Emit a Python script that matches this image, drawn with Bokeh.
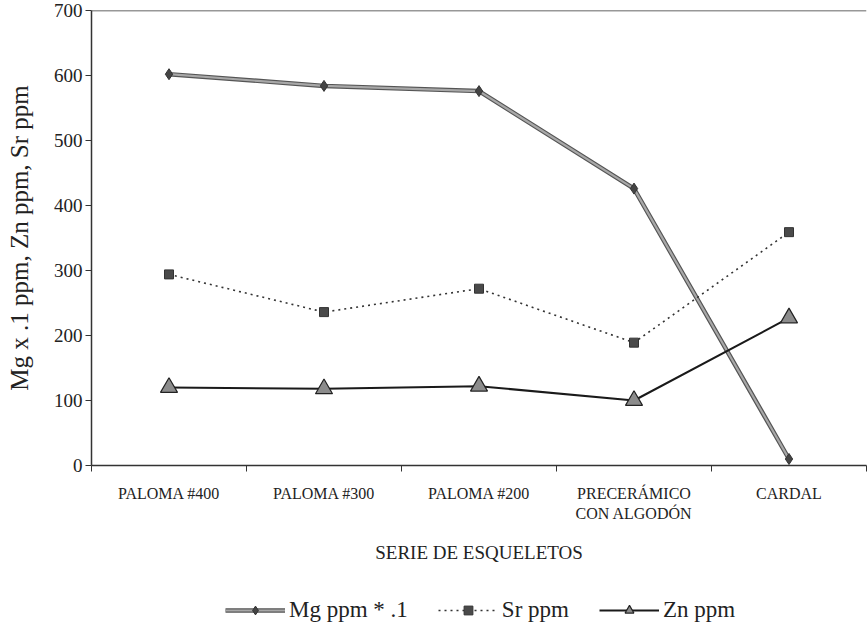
from bokeh.plotting import figure
from bokeh.layouts import column
from bokeh.models import (ColumnDataSource, FixedTicker, Legend, LegendItem, Span, Range1d)
from bokeh.embed import file_html
from bokeh.resources import INLINE

categories = ["PALOMA #400", "PALOMA #300", "PALOMA #200", "PRECERÁMICO\nCON ALGODÓN", "CARDAL"]
mg = [602, 584, 576, 426, 10]
sr = [294, 236, 272, 189, 359]
zn = [120, 118, 122, 100, 227]
y_ticks = [0, 100, 200, 300, 400, 500, 600, 700]
series_labels = ["Mg ppm * .1", "Sr ppm", "Zn ppm"]

xs = [i + 0.5 for i in range(len(categories))]
src = ColumnDataSource(dict(x=xs, mg=mg, sr=sr, zn=zn))

FONT = "Liberation Serif"
TXT = "#222222"

MG_EDGE = dict(line_color="#555555", line_width=4.5)
MG_BODY = dict(line_color="#a8a8a8", line_width=2.2)
MG_MARK = dict(marker="diamond", size=11, fill_color="#444444", line_color="#333333")
SR_LINE = dict(line_color="#333333", line_width=1.6, line_dash="2 4")
SR_MARK = dict(marker="square", size=9, fill_color="#4a4a4a", line_color="#333333")
ZN_LINE = dict(line_color="#1a1a1a", line_width=2)
ZN_MARK = dict(marker="triangle", size=17, fill_color="#8c8c8c", line_color="#222222", line_width=1.2)

p = figure(width=868, height=590, output_backend="svg", toolbar_location=None,
           x_range=Range1d(0, len(categories)), y_range=Range1d(0, 700),
           min_border_left=91, min_border_right=2, min_border_top=10, min_border_bottom=125)
p.outline_line_color = None
p.xgrid.grid_line_color = None
p.ygrid.grid_line_color = None

p.add_layout(Span(location=700, dimension="width", line_color="#333333", line_width=1.5))

p.line("x", "mg", source=src, **MG_EDGE)
p.line("x", "mg", source=src, **MG_BODY)
p.scatter("x", "mg", source=src, **MG_MARK)
p.line("x", "sr", source=src, **SR_LINE)
p.scatter("x", "sr", source=src, **SR_MARK)
p.line("x", "zn", source=src, **ZN_LINE)
p.scatter("x", "zn", source=src, **ZN_MARK)

xa = p.xaxis[0]
xa.ticker = FixedTicker(ticks=xs, minor_ticks=list(range(len(categories) + 1)))
xa.major_label_overrides = {x: c for x, c in zip(xs, categories)}
xa.major_tick_line_color = None
xa.major_tick_out = 6
xa.minor_tick_line_color = "#333333"
xa.minor_tick_out = 6
xa.minor_tick_in = 0
xa.axis_line_color = "#333333"
xa.axis_line_width = 1.5
xa.major_label_text_font = FONT
xa.major_label_text_font_size = "16px"
xa.major_label_text_color = TXT
xa.major_label_standoff = 13
xa.axis_label = "SERIE DE ESQUELETOS"
xa.axis_label_text_font = FONT
xa.axis_label_text_font_style = "normal"
xa.axis_label_text_font_size = "19px"
xa.axis_label_text_color = TXT
xa.axis_label_standoff = 17

ya = p.yaxis[0]
ya.ticker = FixedTicker(ticks=y_ticks, minor_ticks=[])
ya.major_tick_out = 6
ya.major_tick_in = 0
ya.major_tick_line_color = "#333333"
ya.axis_line_color = "#333333"
ya.axis_line_width = 1.5
ya.major_label_text_font = FONT
ya.major_label_text_font_size = "19px"
ya.major_label_text_color = TXT
ya.major_label_standoff = 3
ya.axis_label = "Mg x .1 ppm, Zn ppm, Sr ppm"
ya.axis_label_text_font = FONT
ya.axis_label_text_font_style = "normal"
ya.axis_label_text_font_size = "25px"
ya.axis_label_text_color = TXT
ya.axis_label_standoff = 18

# legend strip (series drawn off-screen; only their legend glyphs show)
q = figure(width=868, height=40, output_backend="svg", toolbar_location=None,
           x_range=Range1d(0, 1), y_range=Range1d(-2000, -1999),
           x_axis_type=None, y_axis_type=None, min_border=0)
q.outline_line_color = None
q.xgrid.grid_line_color = None
q.ygrid.grid_line_color = None
r_mg = [q.line("x", "mg", source=src, **MG_EDGE), q.line("x", "mg", source=src, **MG_BODY),
        q.scatter("x", "mg", source=src, **MG_MARK)]
r_sr = [q.line("x", "sr", source=src, **SR_LINE), q.scatter("x", "sr", source=src, **SR_MARK)]
r_zn = [q.line("x", "zn", source=src, **ZN_LINE), q.scatter("x", "zn", source=src, **ZN_MARK)]

legend = Legend(items=[
    LegendItem(label=series_labels[0], renderers=r_mg),
    LegendItem(label=series_labels[1], renderers=r_sr),
    LegendItem(label=series_labels[2], renderers=r_zn),
], orientation="horizontal", location=(134, 7))
legend.label_text_font = FONT
legend.label_text_font_size = "23px"
legend.label_text_color = TXT
legend.glyph_width = 60
legend.glyph_height = 22
legend.spacing = 30
legend.label_standoff = 4
legend.border_line_color = None
legend.background_fill_alpha = 0
legend.margin = 0
legend.padding = 0
q.add_layout(legend, "center")

open("out.html", "w").write(file_html(column(p, q, spacing=0), INLINE))
